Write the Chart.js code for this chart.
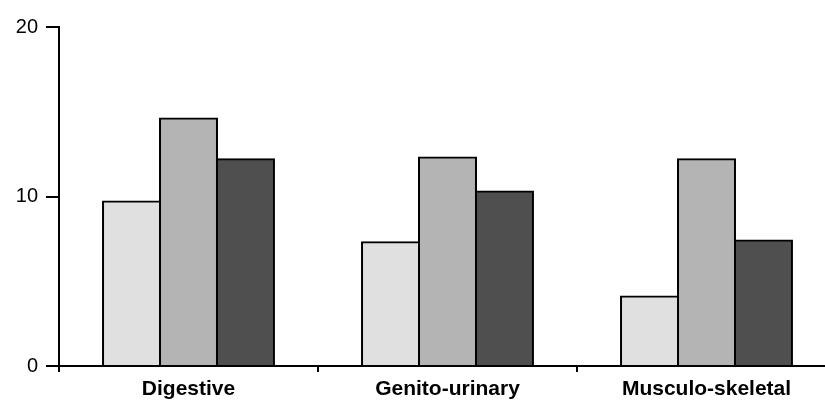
<!DOCTYPE html>
<html>
<head>
<meta charset="utf-8">
<script src="https://cdn.jsdelivr.net/npm/chart.js@4"></script>
<style>
  body { margin: 0; overflow: hidden; background: #fff; }
  #wrap { width: 840px; height: 403px; }
</style>
</head>
<body>
<div id="wrap"><canvas id="myChart" width="840" height="403"></canvas></div>
<script>
// values
const categories = ["Digestive", "Genito-urinary", "Musculo-skeletal"];
const seriesA = [9.7, 7.3, 4.1];
const seriesB = [14.6, 12.3, 12.2];
const seriesC = [12.2, 10.3, 7.4];
const yTicks = [0, 10, 20];

const fills = ["#e0e0e0", "#b4b4b4", "#4f4f4f"];

new Chart("myChart", {
  type: "bar",
  data: {
    labels: categories,
    datasets: [seriesA, seriesB, seriesC].map((vals, i) => ({
      data: vals,
      backgroundColor: fills[i],
      borderColor: "#000",
      borderWidth: 2,
      inflateAmount: 1,
      categoryPercentage: 0.66,
      barPercentage: 1.0
    }))
  },
  options: {
    responsive: false,
    animation: false,
    layout: { padding: { top: 27, right: 4, left: 0, bottom: 0 } },
    plugins: { legend: { display: false }, tooltip: { enabled: false } },
    scales: {
      x: {
        grid: { drawOnChartArea: false, drawTicks: true, tickLength: 6, color: "#000", lineWidth: 2 },
        border: { display: true, color: "#000", width: 2 },
        ticks: {
          color: "#000",
          padding: 5,
          font: { family: "'Liberation Sans', Arial, sans-serif", size: 21, weight: "bold" }
        },
        afterFit: (scale) => { scale.height = 37; }
      },
      y: {
        min: 0,
        max: 20,
        afterBuildTicks: (scale) => { scale.ticks = yTicks.map(v => ({ value: v })); },
        grid: { drawOnChartArea: false, drawTicks: true, tickLength: 13, color: "#000", lineWidth: 2 },
        border: { display: true, color: "#000", width: 2 },
        ticks: {
          color: "#000",
          padding: 8,
          font: { family: "'Liberation Sans', Arial, sans-serif", size: 20 }
        },
        afterFit: (scale) => { scale.width = 59; }
      }
    }
  }
});
</script>
</body>
</html>
